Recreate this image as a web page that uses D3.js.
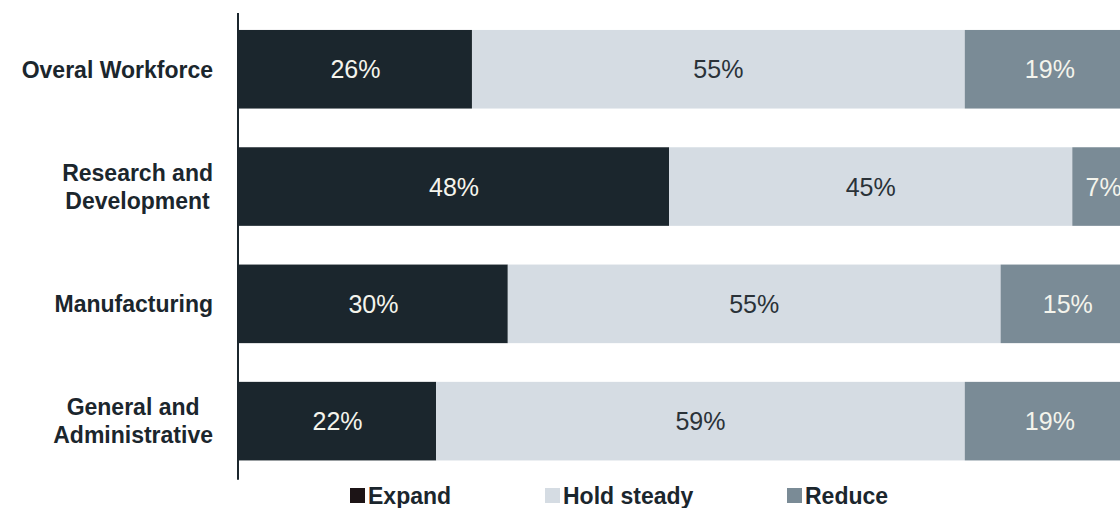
<!DOCTYPE html>
<html>
<head>
<meta charset="utf-8">
<script src="https://cdn.jsdelivr.net/npm/d3@7"></script>
<style>
  body { margin: 0; background: #fff; overflow: hidden; }
  text { font-family: "Liberation Sans", Arial, sans-serif; }
</style>
</head>
<body>
<div id="chart"></div>
<script>
// data
const categories = ["Overal Workforce", "Research and\nDevelopment", "Manufacturing", "General and\nAdministrative"];
const seriesNames = ["Expand", "Hold steady", "Reduce"];
const expand = [26, 48, 30, 22];
const holdSteady = [55, 45, 55, 59];
const reduce = [19, 7, 15, 19];

const width = 1120;
const height = 508;
const colors = ["#1b262d", "#d5dce3", "#7a8b96"];
const legendColors = ["#1c1416", "#d5dce3", "#7a8b96"];

const rows = categories.map((c, i) => ({
  category: c,
  Expand: expand[i],
  "Hold steady": holdSteady[i],
  Reduce: reduce[i]
}));
const stacked = d3.stack().keys(seriesNames)(rows);

const xScale = d3.scaleLinear()
  .domain([0, 100])
  .range([239, 1135]);

const yScale = d3.scaleBand()
  .domain(categories)
  .range([10.6, 479.8])
  .paddingInner(0.33)
  .paddingOuter(0.165);

const svg = d3.select("#chart")
  .append("svg")
  .attr("width", width)
  .attr("height", height);

// segments
const groups = svg.selectAll("g.series")
  .data(stacked)
  .join("g")
  .attr("class", "series")
  .attr("fill", (d, i) => colors[i]);

groups.selectAll("rect")
  .data(d => d)
  .join("rect")
  .attr("x", d => xScale(d[0]))
  .attr("y", d => yScale(d.data.category))
  .attr("width", d => xScale(d[1]) - xScale(d[0]))
  .attr("height", yScale.bandwidth());

// value labels
groups.selectAll("text")
  .data(d => d.map(v => ({ v, key: d.key })))
  .join("text")
  .attr("x", d => (xScale(d.v[0]) + xScale(d.v[1])) / 2)
  .attr("y", d => yScale(d.v.data.category) + yScale.bandwidth() / 2)
  .attr("dy", "0.36em")
  .attr("text-anchor", "middle")
  .attr("fill", d => d.key === "Hold steady" ? "#2a3238" : "#f4f4ec")
  .attr("font-size", 25)
  .text(d => d.v.data[d.key] + "%");

// axis line
svg.append("line")
  .attr("x1", 238).attr("x2", 238)
  .attr("y1", 13).attr("y2", yScale.range()[1])
  .attr("stroke", "#1b262d")
  .attr("stroke-width", 2);

// category labels: block right aligned, lines centred in block
const labelRight = 213;
categories.forEach(c => {
  const lines = c.split("\n");
  const g = svg.append("g");
  const cy = yScale(c) + yScale.bandwidth() / 2;
  const lh = 28;
  const texts = lines.map((l, i) => g.append("text")
    .attr("y", cy + (i - (lines.length - 1) / 2) * lh)
    .attr("dy", "0.36em")
    .attr("font-size", 23)
    .attr("font-weight", "bold")
    .attr("fill", "#1b262d")
    .attr("text-anchor", "middle")
    .text(l));
  const maxW = d3.max(texts, t => t.node().getComputedTextLength());
  texts.forEach(t => t.attr("x", labelRight - maxW / 2));
});

// legend
const legendX = [350, 545, 787];
const legend = svg.selectAll("g.legend")
  .data(seriesNames)
  .join("g")
  .attr("class", "legend")
  .attr("transform", (d, i) => `translate(${legendX[i]},488)`);

legend.append("rect")
  .attr("width", 15)
  .attr("height", 15)
  .attr("fill", (d, i) => legendColors[i]);

legend.append("text")
  .attr("x", 18)
  .attr("y", 7.5)
  .attr("dy", "0.36em")
  .attr("font-size", 23)
  .attr("font-weight", "bold")
  .attr("fill", "#1b262d")
  .text(d => d);
</script>
</body>
</html>
